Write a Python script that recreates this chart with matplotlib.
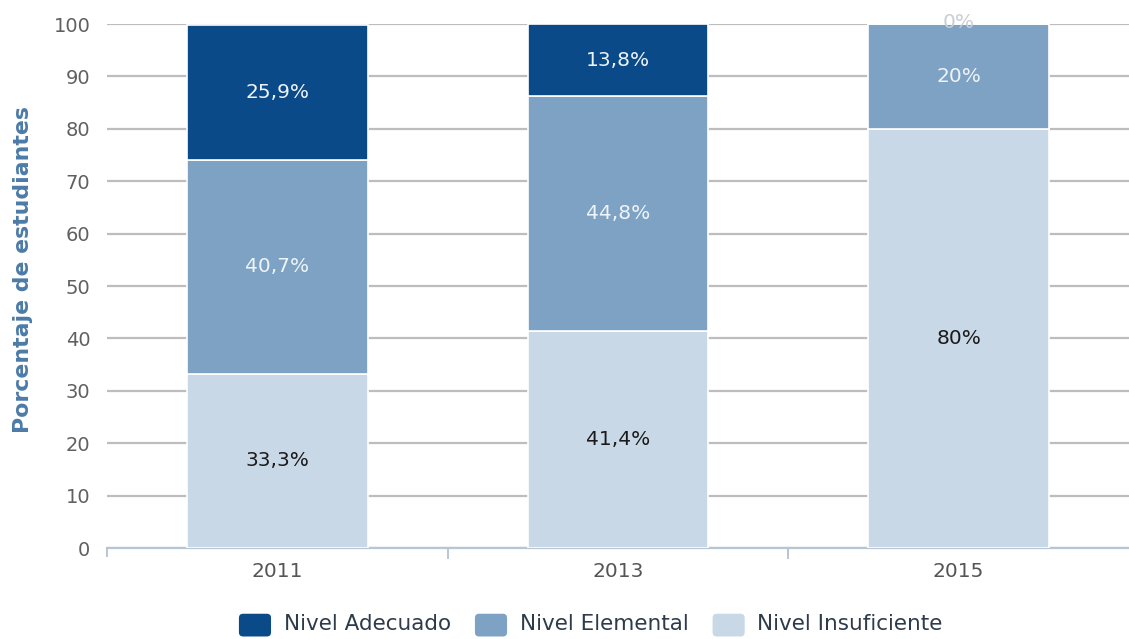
import matplotlib
matplotlib.use("Agg")
import matplotlib.pyplot as plt
from matplotlib.patches import FancyBboxPatch, Patch
from matplotlib.legend_handler import HandlerPatch
import numpy as np

years = ["2011", "2013", "2015"]
insuficiente = [33.3, 41.4, 80.0]
elemental = [40.7, 44.8, 20.0]
adecuado = [25.9, 13.8, 0.0]
lab_insuf = ["33,3%", "41,4%", "80%"]
lab_elem = ["40,7%", "44,8%", "20%"]
lab_adec = ["25,9%", "13,8%", "0%"]
series_names = ["Nivel Adecuado", "Nivel Elemental", "Nivel Insuficiente"]
yticks = [0, 10, 20, 30, 40, 50, 60, 70, 80, 90, 100]

c_adec = "#0B4A89"
c_elem = "#7DA2C3"
c_insuf = "#C8D8E6"

plt.rcParams['font.family'] = ['DejaVu Sans']
fig = plt.figure(figsize=(11.29, 6.39), dpi=100)
ax = fig.add_axes([0.0948, 0.1424, 0.9052, 0.8200])

x = np.arange(len(years))
w = 0.53
b1 = ax.bar(x, insuficiente, w, color=c_insuf, edgecolor="white", linewidth=1.2, zorder=3)
bot2 = np.array(insuficiente)
b2 = ax.bar(x, elemental, w, bottom=bot2, color=c_elem, edgecolor="white", linewidth=1.2, zorder=3)
bot3 = bot2 + np.array(elemental)
b3 = ax.bar(x, adecuado, w, bottom=bot3, color=c_adec, edgecolor="white", linewidth=1.2, zorder=3)

fs = 14.5
for i in range(len(years)):
    ax.text(x[i], insuficiente[i] / 2, lab_insuf[i], ha="center", va="center",
            fontsize=fs, color="#1a1a1a", zorder=4)
    ax.text(x[i], bot2[i] + elemental[i] / 2, lab_elem[i], ha="center", va="center",
            fontsize=fs, color="#EEF3F8", zorder=4)
    if adecuado[i] > 0:
        ax.text(x[i], bot3[i] + adecuado[i] / 2, lab_adec[i], ha="center", va="center",
                fontsize=fs, color="#EEF3F8", zorder=4)
    else:
        ax.text(x[i], bot3[i] + 0.3, lab_adec[i], ha="center", va="center",
                fontsize=fs, color="#C9CFD6", zorder=4)

ax.set_xlim(-0.5, len(years) - 0.5)
ax.set_ylim(0, 100)
ax.set_yticks(yticks)
ax.set_yticklabels([str(t) for t in yticks])
ax.yaxis.grid(True, color="#BDBDBD", linewidth=1.6, zorder=0)
ax.set_axisbelow(True)

for s in ["top", "right", "left"]:
    ax.spines[s].set_visible(False)
ax.spines["bottom"].set_color("#B8C6D4")
ax.spines["bottom"].set_linewidth(1.6)

ax.set_xticks(x)
ax.set_xticklabels(years)
ax.set_xticks([0.5, 1.5], minor=True)
ax.tick_params(axis="x", which="major", length=0, pad=10, labelsize=14.5, labelcolor="#555555")
ax.tick_params(axis="x", which="minor", length=8, width=1.4, color="#B8C6D4")
ax.tick_params(axis="y", length=0, pad=12, labelsize=14, labelcolor="#606060")
ax.plot([-0.5, -0.5], [0, -1.5], color="#B8C6D4", lw=1.4, clip_on=False)

ax.set_ylabel("Porcentaje de estudiantes", fontsize=15.8, color="#4C7BA8",
              fontweight="bold")
ax.yaxis.set_label_coords(-0.072, 0.532)


class RoundHandler(HandlerPatch):
    def create_artists(self, legend, orig_handle, xdescent, ydescent, width, height,
                       fontsize, trans):
        p = FancyBboxPatch((-xdescent + 2, -ydescent - 3), width - 4, height + 2,
                           boxstyle="round,pad=0,rounding_size=3",
                           facecolor=orig_handle.get_facecolor(), edgecolor="none",
                           transform=trans)
        return [p]


handles = [Patch(facecolor=c_adec), Patch(facecolor=c_elem), Patch(facecolor=c_insuf)]
leg = fig.legend(handles, series_names, loc="lower center", bbox_to_anchor=(0.522, -0.022),
                 ncol=3, frameon=False, fontsize=15.5, handlelength=1.75, handleheight=1.05,
                 columnspacing=1.0, handletextpad=0.45, labelcolor="#2E3B4A",
                 handler_map={Patch: RoundHandler()})

fig.savefig("out.png", dpi=100)
